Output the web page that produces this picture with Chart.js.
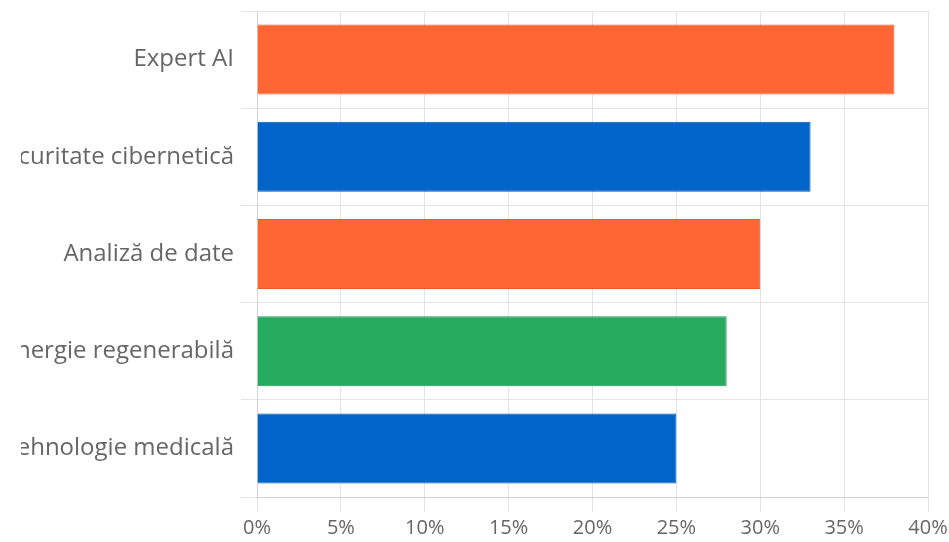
<!DOCTYPE html>
<html>
<head>
<meta charset="utf-8">
<script src="https://cdn.jsdelivr.net/npm/chart.js@4/dist/chart.umd.min.js"></script>
<style>
    html, body { margin: 0; padding: 0; background: #fff; overflow: hidden; }
    #wrap { position: absolute; left: 21px; top: 0; width: 928px; height: 542px; }
</style>
</head>
<body>
<div id="wrap"><canvas id="myChart"></canvas></div>
<script>
// Chart data
const categories = ["Expert AI", "Securitate cibernetică", "Analiză de date", "Energie regenerabilă", "Tehnologie medicală"];
const shares = [38, 33, 30, 28, 25];
const barColors = ["#FF6633", "#0064C8", "#FF6633", "#26AB5E", "#0064C8"];
const barBorders = ["#E85A2C", "#0058B0", "#E85A2C", "#21985A", "#0058B0"];
const xTicks = [0, 5, 10, 15, 20, 25, 30, 35, 40];

Chart.defaults.font.family = "'Open Sans', sans-serif";
Chart.defaults.font.size = 20;
Chart.defaults.color = '#666';

const ctx = document.getElementById('myChart').getContext('2d');
const myChart = new Chart(ctx, {
    type: 'bar',
    data: {
        labels: categories,
        datasets: [{
            data: shares,
            backgroundColor: barColors,
            borderColor: barBorders,
            borderWidth: 1
        }]
    },
    options: {
        indexAxis: 'y',
        responsive: true,
        maintainAspectRatio: false,
        animation: false,
        layout: { padding: { top: 11, bottom: 0 } },
        plugins: {
            legend: { display: false },
            tooltip: { enabled: false }
        },
        scales: {
            x: {
                min: 0,
                max: 40,
                afterBuildTicks: scale => {
                    scale.ticks = xTicks.map(v => ({ value: v }));
                },
                afterFit: scale => {
                    scale.height = 45;
                    scale.paddingRight = 21;
                },
                ticks: {
                    padding: 4,
                    callback: v => v + '%'
                },
                grid: { color: '#e4e4e4', tickLength: 15 },
                border: { color: '#d4d4d4' }
            },
            y: {
                afterFit: scale => {
                    scale.width = 236;
                    scale.paddingTop = 0;
                    scale.paddingBottom = 0;
                },
                ticks: { padding: 7, font: { size: 24 } },
                grid: { color: '#e4e4e4', tickLength: 16 },
                border: { color: '#d4d4d4' }
            }
        }
    }
});
</script>
</body>
</html>
